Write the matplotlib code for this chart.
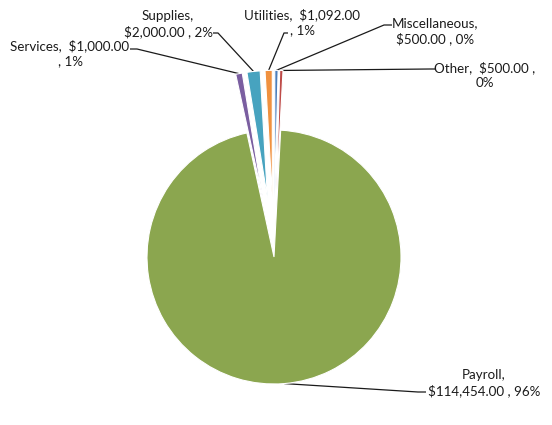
import matplotlib
matplotlib.use("Agg")
import matplotlib.pyplot as plt
import numpy as np

# Budget categories in the order they are laid out, clockwise from 12 o'clock
categories = ["Miscellaneous", "Other", "Payroll", "Services", "Supplies", "Utilities"]
amounts = [500.00, 500.00, 114454.00, 1000.00, 2000.00, 1092.00]
colors = ["#4A7EBB", "#BE4B48", "#8BA64F", "#7A5EA0", "#47A3BF", "#F0913F"]

# where each label breaks onto a second line
breaks = ["name", "comma", "name", "value", "name", "value"]

W, H = 552, 425
CX, CY, R = 274, 257, 127          # pie centre / radius in pixels (y measured down)
EXPLODE = 0.47                     # fraction of radius the small slices are pulled out

# label block centres and leader-line start points (pixels, y down)
label_pos = [(435, 31), (485, 75), (484, 383), (70, 53), (168, 24), (302, 22)]
leader_start = [(392, 25), (435, 69), (426, 392), (130, 49), (213, 33), (288, 33)]
leader_elbow = [(384, 25), (430, 69), (418, 392), (137, 49), (218, 33), (284, 33)]


def Y(y):
    return H - y


fig = plt.figure(figsize=(W / 100, H / 100), dpi=100)
ax = fig.add_axes([0, 0, 1, 1])

total = sum(amounts)
explode = [0 if a / total > 0.5 else EXPLODE * R for a in amounts]
wedges, _ = ax.pie(amounts, colors=colors, startangle=90, counterclock=False,
                   explode=explode, radius=R, center=(CX, Y(CY)),
                   wedgeprops=dict(edgecolor="white", linewidth=0.8))

ax.set_xlim(0, W)
ax.set_ylim(0, H)
ax.set_aspect("equal")
ax.axis("off")

font = dict(family=["Lato", "DejaVu Sans"], fontsize=9.6, color="#1a1a1a")

for i, (cat, amt, w) in enumerate(zip(categories, amounts, wedges)):
    pct = round(100 * amt / total)
    val = f"${amt:,.2f}"
    if breaks[i] == "name":
        txt = f"{cat},\n{val} , {pct}%"
    elif breaks[i] == "value":
        txt = f"{cat},  {val}\n, {pct}%"
    else:
        txt = f"{cat},  {val} ,\n{pct}%"
    lx, ly = label_pos[i]
    ax.text(lx, Y(ly), txt, ha="center", va="center", multialignment="center",
            linespacing=1.3, **font)

    # leader line from label to the outer edge of the slice at its mid-angle
    mid = np.deg2rad((w.theta1 + w.theta2) / 2)
    px = w.center[0] + w.r * np.cos(mid)
    py = w.center[1] + w.r * np.sin(mid)
    sx, sy = leader_start[i]
    ex, ey = leader_elbow[i]
    ax.plot([sx, ex, px], [Y(sy), Y(ey), py], color="#1a1a1a", lw=0.9,
            solid_capstyle="butt", zorder=0)

fig.savefig("out.png", dpi=100, facecolor="white")
